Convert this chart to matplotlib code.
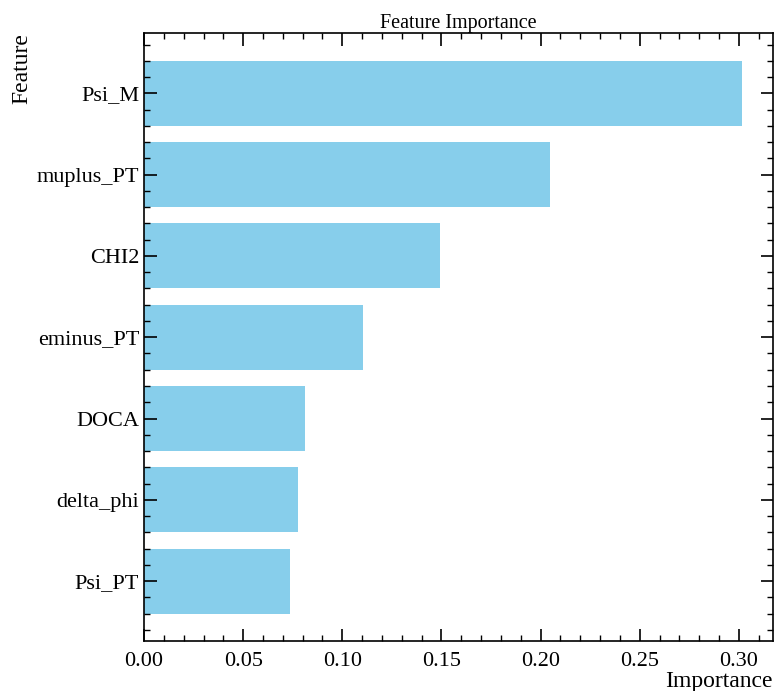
import numpy as np
import matplotlib.pyplot as plt
from matplotlib.ticker import MultipleLocator

features = ['Psi_PT', 'delta_phi', 'DOCA', 'eminus_PT', 'CHI2', 'muplus_PT', 'Psi_M']
importance = [0.0738, 0.0778, 0.0812, 0.1105, 0.1495, 0.2045, 0.3015]

plt.rcParams['font.family'] = ['Liberation Serif', 'DejaVu Serif']
plt.rcParams['mathtext.fontset'] = 'stix'

fig = plt.figure(figsize=(7.76, 6.91), dpi=100)
ax = fig.add_axes([0.1856, 0.072, 0.81, 0.88])

y = np.arange(len(features))
ax.barh(y, importance, height=0.8, color='skyblue')
ax.set_yticks(y)
ax.set_yticklabels(features)
ax.set_xlim(0, 0.317)
ax.set_ylim(-0.74, 6.74)

ax.xaxis.set_major_locator(MultipleLocator(0.05))
ax.xaxis.set_minor_locator(MultipleLocator(0.01))
ax.yaxis.set_minor_locator(MultipleLocator(0.2))
ax.xaxis.set_major_formatter(plt.FormatStrFormatter('%.2f'))

ax.tick_params(which='both', direction='in', top=True, right=True, labelsize=16)
ax.tick_params(which='major', length=9, width=1.2)
ax.tick_params(which='minor', length=4.5, width=1.0)
ax.tick_params(axis='x', pad=8)
for s in ax.spines.values():
    s.set_linewidth(1.2)

ax.set_title('Feature Importance', fontsize=14.5, pad=2)
ax.set_xlabel('Importance', fontsize=17, loc='right', labelpad=0)
ax.set_ylabel('Feature', fontsize=17, loc='top')
ax.yaxis.set_label_coords(-0.177, 1.0)

fig.savefig('out.png', dpi=100)
